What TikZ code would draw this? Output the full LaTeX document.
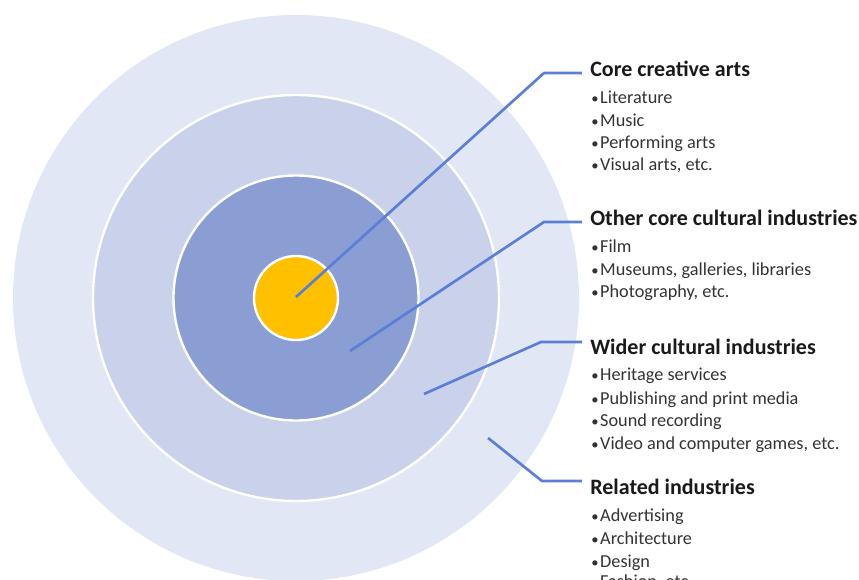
\documentclass[tikz,border=0pt]{standalone}
\usepackage{fontspec}
\setmainfont{Carlito}
\definecolor{ringA}{HTML}{E2E7F6}
\definecolor{ringB}{HTML}{C9D1EB}
\definecolor{ringC}{HTML}{8A9ED4}
\definecolor{coreY}{HTML}{FFC000}
\definecolor{linkC}{HTML}{5B7FD6}
\definecolor{headC}{HTML}{1A1A1A}
\definecolor{itemC}{HTML}{333333}
\newcommand{\bul}{{\fontsize{11pt}{11pt}\selectfont•}\hspace{1.2pt}}
\begin{document}
\begin{tikzpicture}[x=0.75pt,y=-0.75pt,
  ring/.style={circle, draw=white, line width=1.8pt, inner sep=0pt},
  link/.style={draw=linkC, line width=2pt, line join=round},
  head/.style={anchor=base west, inner sep=0pt, text=headC, font=\fontsize{16.5pt}{20pt}\selectfont\bfseries},
  item/.style={anchor=base west, inner sep=0pt, text=itemC, font=\fontsize{13.7pt}{16pt}\selectfont}]
\useasboundingbox (0,0) rectangle (859,580);
\clip (0,0) rectangle (859,580);
% rings
\node[ring, draw=none, fill=ringA, minimum size=424.5pt] (outer) at (296,298) {};
\node[ring, fill=ringB, minimum size=304.5pt] (wider) at (296,298) {};
\node[ring, fill=ringC, minimum size=183.75pt] (other) at (296,298) {};
\node[ring, fill=coreY, minimum size=63pt] (core) at (296,298) {};
% connector points
\coordinate (s1) at (296,297);
\coordinate (b1) at (544,73);
\coordinate (e1) at (582,73);
\coordinate (s2) at (350,351);
\coordinate (b2) at (544,222);
\coordinate (e2) at (582,222);
\coordinate (s3) at (424,394);
\coordinate (b3) at (541,342);
\coordinate (e3) at (582,342);
\coordinate (s4) at (488,438);
\coordinate (b4) at (542,481);
\coordinate (e4) at (582,481);
\draw[link] (s1) -- (b1) -- (e1);
\draw[link] (s2) -- (b2) -- (e2);
\draw[link] (s3) -- (b3) -- (e3);
\draw[link] (s4) -- (b4) -- (e4);
% labels
\node[head] (h1) at (590,77) {Core creative arts};
\node[item] (h1a) at (591,104) {\bul Literature};
\node[item] (h1b) at (591,126.5) {\bul Music};
\node[item] (h1c) at (591,149) {\bul Performing arts};
\node[item] (h1d) at (591,171) {\bul Visual arts, etc.};
\node[head] (h2) at (590,226) {Other core cultural industries};
\node[item] (h2a) at (591,253) {\bul Film};
\node[item] (h2b) at (591,276) {\bul Museums, galleries, libraries};
\node[item] (h2c) at (591,298) {\bul Photography, etc.};
\node[head] (h3) at (590,354) {Wider cultural industries};
\node[item] (h3a) at (591,381) {\bul Heritage services};
\node[item] (h3b) at (591,404) {\bul Publishing and print media};
\node[item] (h3c) at (591,426) {\bul Sound recording};
\node[item] (h3d) at (591,449) {\bul Video and computer games, etc.};
\node[head] (h4) at (590,494) {Related industries};
\node[item] (h4a) at (591,521) {\bul Advertising};
\node[item] (h4b) at (591,544) {\bul Architecture};
\node[item] (h4c) at (591,567) {\bul Design};
\node[item] (h4d) at (591,587) {\bul Fashion, etc.};
\end{tikzpicture}
\end{document}
